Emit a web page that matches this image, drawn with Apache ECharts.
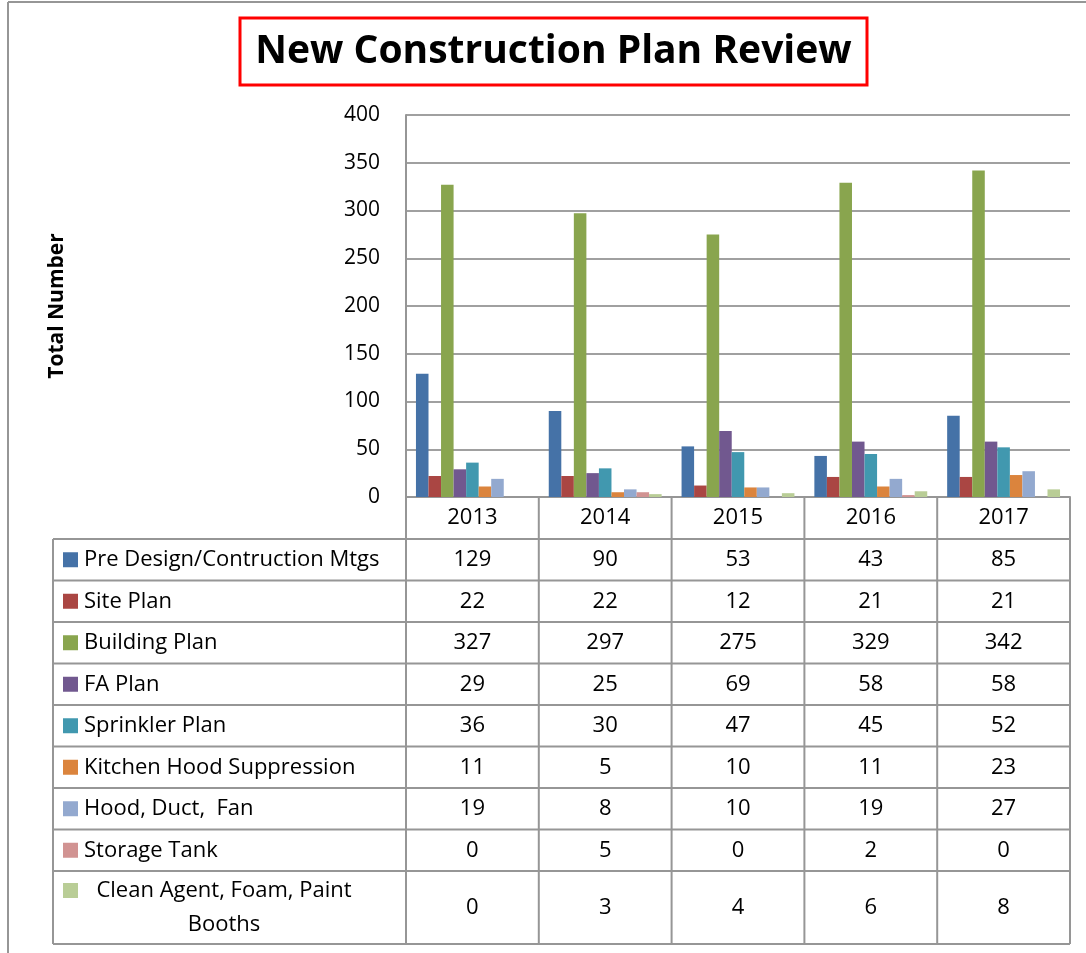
<!DOCTYPE html>
<html>
<head>
<meta charset="utf-8">
<title>New Construction Plan Review</title>
<script src="https://cdn.jsdelivr.net/npm/echarts@6/dist/echarts.min.js"></script>
<style>
    html, body { margin: 0; padding: 0; background: #fff; }
    #main { width: 1086px; height: 953px; }
</style>
</head>
<body>
<div id="main"></div>
<script>
    // data
    var years = ['2013', '2014', '2015', '2016', '2017'];
    var seriesNames = ['Pre Design/Contruction Mtgs', 'Site Plan', 'Building Plan', 'FA Plan',
        'Sprinkler Plan', 'Kitchen Hood Suppression', 'Hood, Duct,  Fan', 'Storage Tank',
        'Clean Agent, Foam, Paint Booths'];
    var preDesign = [129, 90, 53, 43, 85];
    var sitePlan = [22, 22, 12, 21, 21];
    var buildingPlan = [327, 297, 275, 329, 342];
    var faPlan = [29, 25, 69, 58, 58];
    var sprinklerPlan = [36, 30, 47, 45, 52];
    var kitchenHood = [11, 5, 10, 11, 23];
    var hoodDuctFan = [19, 8, 10, 19, 27];
    var storageTank = [0, 5, 0, 2, 0];
    var cleanAgent = [0, 3, 4, 6, 8];
    var allData = [preDesign, sitePlan, buildingPlan, faPlan, sprinklerPlan,
        kitchenHood, hoodDuctFan, storageTank, cleanAgent];

    var colors = ['#4572A7', '#AA4643', '#89A54E', '#71588F', '#4198AF',
        '#DB843D', '#93A9CF', '#D19392', '#B9CD96'];
    var font = 'Open Sans';
    var lineColor = '#969696';

    var el = document.getElementById('main');
    var myChart = echarts.init(el);

    var series = [];
    for (var i = 0; i < seriesNames.length; i++) {
        series.push({
            name: seriesNames[i],
            type: 'bar',
            barGap: '0%',
            barCategoryGap: '15%',
            itemStyle: { color: colors[i] },
            data: allData[i]
        });
    }

    var option = {
        animation: false,
        textStyle: { fontFamily: font },
        grid: { left: 406, top: 115, width: 664, height: 382 },
        xAxis: {
            type: 'category',
            data: years,
            axisTick: { show: false },
            axisLine: { lineStyle: { color: lineColor, width: 2 } },
            axisLabel: { color: '#000', fontSize: 22, margin: 21, verticalAlign: 'middle' }
        },
        yAxis: {
            type: 'value',
            min: 0,
            max: 400,
            interval: 50,
            name: 'Total Number',
            nameLocation: 'middle',
            nameRotate: 90,
            nameGap: 338,
            nameTextStyle: { color: '#000', fontSize: 21, fontWeight: 'bold' },
            axisLine: { show: true, lineStyle: { color: lineColor, width: 2 } },
            axisTick: { show: false },
            splitLine: { lineStyle: { color: '#a0a0a0', width: 2 } },
            axisLabel: { color: '#000', fontSize: 21, margin: 26 }
        },
        series: series
    };
    myChart.setOption(option);

    // data table under the plot
    var tableLeft = 53;
    var gridRight = 1070;
    var headerTop = 497;
    var rowTops = [539];
    var rowH = 41.5;
    for (var r = 0; r < seriesNames.length; r++) {
        rowTops.push(rowTops[r] + (r === seriesNames.length - 1 ? 73 : rowH));
    }
    var tableBottom = rowTops[rowTops.length - 1];
    var band = 664 / years.length;

    var g = [];
    function line(x1, y1, x2, y2) {
        g.push({
            type: 'line', silent: true,
            shape: { x1: x1, y1: y1, x2: x2, y2: y2 },
            style: { stroke: lineColor, lineWidth: 2 }
        });
    }
    for (var r = 0; r < rowTops.length; r++) {
        line(tableLeft, rowTops[r], gridRight, rowTops[r]);
    }
    line(tableLeft, rowTops[0], tableLeft, tableBottom);
    for (var c = 0; c <= years.length; c++) {
        var cx = myChart.convertToPixel({ xAxisIndex: 0 }, Math.min(c, years.length - 1));
        var bx = c < years.length ? cx - band / 2 : cx + band / 2;
        line(bx, headerTop, bx, tableBottom);
    }

    for (var r = 0; r < seriesNames.length; r++) {
        var rowTop = rowTops[r], rowHeight = rowTops[r + 1] - rowTops[r];
        var mid = rowTop + rowHeight / 2;
        var wrap = seriesNames[r].indexOf('Paint Booths') > -1;
        var labelY = wrap ? mid - 17 : mid;
        g.push({
            type: 'rect', silent: true,
            shape: { x: 63, y: labelY - 7.5, width: 15, height: 15 },
            style: { fill: colors[r] }
        });
        g.push({
            type: 'text', silent: true,
            x: wrap ? 224 : 84, y: mid,
            style: {
                text: wrap ? 'Clean Agent, Foam, Paint\nBooths' : seriesNames[r],
                font: '22px "' + font + '"', fill: '#000',
                align: wrap ? 'center' : 'left', verticalAlign: 'middle',
                lineHeight: 34
            }
        });
        for (var c = 0; c < years.length; c++) {
            g.push({
                type: 'text', silent: true,
                x: myChart.convertToPixel({ xAxisIndex: 0 }, c), y: mid,
                style: {
                    text: String(allData[r][c]),
                    font: '22px "' + font + '"', fill: '#000',
                    align: 'center', verticalAlign: 'middle'
                }
            });
        }
    }

    // outer frame and title box
    line(8, 2, 1086, 2);
    line(8, 2, 8, 953);
    g.push({
        type: 'rect', silent: true,
        shape: { x: 240, y: 18, width: 627, height: 67 },
        style: { fill: '#fff', stroke: '#ff0000', lineWidth: 3 }
    });
    g.push({
        type: 'text', silent: true,
        x: 553.5, y: 52,
        style: {
            text: 'New Construction Plan Review',
            font: 'bold 39px "' + font + '"', fill: '#000',
            align: 'center', verticalAlign: 'middle'
        }
    });

    myChart.setOption({ graphic: g });
</script>
</body>
</html>
